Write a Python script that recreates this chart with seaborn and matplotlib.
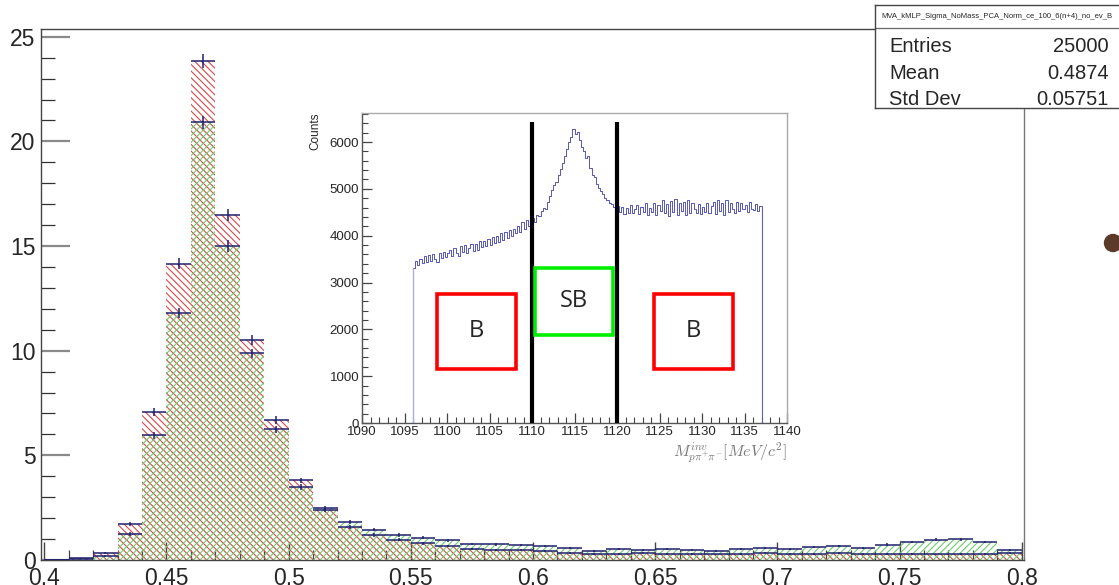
import numpy as np
import matplotlib
matplotlib.use("Agg")
import matplotlib.pyplot as plt
import seaborn as sns
from matplotlib.patches import Rectangle, Ellipse
from matplotlib.ticker import MultipleLocator

# ---------------- data: main histograms (MVA output, 40 bins 0.40-0.80) ----------------
bin_edges = np.round(np.arange(0.40, 0.8001, 0.01), 2)
red_vals = [0.00, 0.08, 0.32, 1.71, 7.07, 14.15, 23.84, 16.47, 10.51, 6.70,
            3.80, 2.38, 1.58, 1.20, 0.96, 0.80, 0.67, 0.53, 0.48, 0.46,
            0.45, 0.35, 0.30, 0.29, 0.32, 0.29, 0.29, 0.27, 0.29, 0.35,
            0.29, 0.30, 0.35, 0.29, 0.29, 0.30, 0.27, 0.29, 0.29, 0.35]
red_errs = [0.00, 0.02, 0.04, 0.09, 0.19, 0.26, 0.32, 0.28, 0.22, 0.18,
            0.13, 0.11, 0.09, 0.08, 0.07, 0.06, 0.06, 0.05, 0.05, 0.05,
            0.05, 0.04, 0.04, 0.04, 0.04, 0.04, 0.04, 0.04, 0.04, 0.04,
            0.04, 0.04, 0.04, 0.04, 0.04, 0.04, 0.04, 0.04, 0.04, 0.04]
green_vals = [0.00, 0.05, 0.19, 1.24, 5.95, 11.80, 20.92, 15.00, 9.87, 6.25,
              3.48, 2.49, 1.80, 1.45, 1.20, 1.07, 0.94, 0.77, 0.75, 0.72,
              0.68, 0.56, 0.42, 0.53, 0.49, 0.54, 0.49, 0.42, 0.51, 0.59,
              0.53, 0.61, 0.67, 0.59, 0.73, 0.86, 0.97, 1.00, 0.85, 0.48]
green_errs = [0.00, 0.02, 0.03, 0.08, 0.17, 0.24, 0.31, 0.27, 0.22, 0.17,
              0.13, 0.11, 0.09, 0.08, 0.08, 0.07, 0.07, 0.06, 0.06, 0.06,
              0.06, 0.05, 0.05, 0.05, 0.05, 0.05, 0.05, 0.05, 0.05, 0.05,
              0.05, 0.05, 0.06, 0.05, 0.06, 0.06, 0.07, 0.07, 0.06, 0.05]

# ---------------- data: inset invariant-mass histogram ----------------
mass_edges = np.arange(1096.0, 1137.0001, 0.25)
mass_counts = [
    3300, 3460, 3380, 3510, 3420, 3560, 3440, 3590, 3470, 3610, 3500, 3430, 3640, 3520, 3660, 3540,
    3620, 3700, 3570, 3740, 3620, 3560, 3780, 3650, 3800, 3630, 3740, 3830, 3680, 3820, 3700, 3880,
    3760, 3890, 3770, 3930, 3800, 3980, 3840, 4000, 3870, 4050, 3900, 4080, 3960, 4130, 3990, 4150,
    4060, 4200, 4080, 4290, 4140, 4330, 4210, 4360,
    4380, 4300, 4450, 4420, 4530, 4600, 4580, 4720,
    4850, 4980, 5080, 5150, 5300, 5420, 5560, 5700,
    5850, 6000, 6100, 6280, 6180, 6220, 6050, 5900,
    5800, 5650, 5700, 5450, 5300, 5250, 5100, 5020,
    4950, 4880, 4800, 4760, 4700, 4680, 4620, 4600,
    4640, 4500, 4610, 4460, 4600, 4490, 4650, 4480, 4580, 4660, 4470, 4620, 4510, 4690, 4450, 4600,
    4500, 4700, 4440, 4650, 4520, 4760, 4480, 4680, 4420, 4740, 4500, 4790, 4450, 4700, 4530, 4730,
    4440, 4770, 4490, 4690, 4560, 4480, 4680, 4460, 4620, 4510, 4700, 4480, 4640, 4720, 4460, 4760,
    4530, 4700, 4450, 4760, 4500, 4690, 4560, 4490, 4730, 4520, 4700, 4560, 4650, 4500, 4720, 4580,
    4540, 4680, 4520, 4640]
sb_window = [1110, 1120]
cut_line_top = 6430
# annotation boxes (inset data coords): label, x0, y0, x1, y1, colour
region_boxes = [("B", 1098.8, 1154, 1108.1, 2756, "#ff0000"),
                ("SB", 1110.4, 1880, 1119.5, 3312, "#00ee00"),
                ("B", 1124.4, 1154, 1133.6, 2756, "#ff0000")]

stats_title = "MVA_kMLP_Sigma_NoMass_PCA_Norm_ce_100_6(n+4)_no_ev_B"
stats_rows = [("Entries", "25000"), ("Mean", "0.4874"), ("Std Dev", "0.05751")]

# ---------------- style ----------------
sns.set_style("white")
plt.rcParams["font.family"] = ["Liberation Sans", "DejaVu Sans"]
plt.rcParams["hatch.linewidth"] = 0.8

W, H = 1119, 585
fig = plt.figure(figsize=(W / 100, H / 100), dpi=100)

def fx(px):
    return px / W

def fy(py):
    return 1 - py / H

RED = "#d64a4a"
GREEN = "#6ccc6c"
NAVY = "#20206e"

ax = fig.add_axes([fx(41), fy(560), fx(1024) - fx(41), fy(29) - fy(560)])
centers = (bin_edges[:-1] + bin_edges[1:]) / 2
edges_list = [float(e) for e in bin_edges]

sns.histplot(x=centers, weights=red_vals, bins=edges_list, ax=ax, element="bars",
             fill=True, facecolor="none", edgecolor=RED, hatch="\\" * 5,
             linewidth=0, zorder=2)
sns.histplot(x=centers, weights=green_vals, bins=edges_list, ax=ax, element="bars",
             fill=True, facecolor="none", edgecolor=GREEN, hatch="/" * 5,
             linewidth=0, zorder=2)
half = (bin_edges[1] - bin_edges[0]) / 2
ax.errorbar(centers, red_vals, xerr=half, yerr=red_errs, fmt="none",
            ecolor=NAVY, elinewidth=1.1, capsize=0, zorder=4)
ax.errorbar(centers, green_vals, xerr=half, yerr=green_errs, fmt="none",
            ecolor=NAVY, elinewidth=1.1, capsize=0, zorder=4)

ax.set_xlim(0.39865, 0.8009)
ax.set_ylim(0, 25.37)
ax.set_xlabel("")
ax.set_ylabel("")
ax.xaxis.set_major_locator(MultipleLocator(0.05))
ax.xaxis.set_minor_locator(MultipleLocator(0.01))
ax.yaxis.set_major_locator(MultipleLocator(5))
ax.yaxis.set_minor_locator(MultipleLocator(1))
ax.set_xticks([0.4, 0.45, 0.5, 0.55, 0.6, 0.65, 0.7, 0.75, 0.8])
ax.set_xticklabels(["0.4", "0.45", "0.5", "0.55", "0.6", "0.65", "0.7", "0.75", "0.8"])
ax.set_yticks([0, 5, 10, 15, 20, 25])
ax.set_yticklabels(["0", "5", "10", "15", "20", "25"])
ax.tick_params(which="both", left=True, bottom=True, right=False, top=False)
ax.tick_params(axis="y", which="major", direction="in", length=21, width=1.6,
               color="#8a8a8a", labelsize=16.5, pad=4)
ax.tick_params(axis="y", which="minor", direction="in", length=10, width=0.9,
               color="#333333")
ax.tick_params(axis="x", which="major", direction="in", length=13, width=1.0,
               color="#444444", labelsize=16.5, pad=5)
ax.tick_params(axis="x", which="minor", direction="in", length=7, width=0.9,
               color="#444444")
for s in ["left", "bottom", "top"]:
    ax.spines[s].set_color("#444444")
    ax.spines[s].set_linewidth(1.0)
ax.spines["right"].set_color("#777777")
ax.spines["right"].set_linewidth(1.0)
ax.set_facecolor("white")

# ---------------- inset ----------------
ax_in = fig.add_axes([fx(362), fy(423), fx(787) - fx(362), fy(113) - fy(423)])
mass_centers = (mass_edges[:-1] + mass_edges[1:]) / 2
mass_edges_list = [float(e) for e in mass_edges]
sns.histplot(x=mass_centers, weights=mass_counts, bins=mass_edges_list, ax=ax_in,
             element="step", fill=False, color="#5656b8", linewidth=0.7)
ax_in.vlines([mass_edges[0]], 0, mass_counts[0], color="#aab0dd", lw=1.0)
ax_in.vlines([mass_edges[-1]], 0, mass_counts[-1], color="#6060bb", lw=0.8)
ax_in.vlines(sb_window, 0, cut_line_top, color="black", lw=3.0, zorder=5)
for label, x0, y0, x1, y1, col in region_boxes:
    ax_in.add_patch(Rectangle((x0, y0), x1 - x0, y1 - y0, fill=False,
                              edgecolor=col, lw=2.6, zorder=6))
    ax_in.text((x0 + x1) / 2, (y0 + y1) / 2, label, ha="center", va="center",
               fontsize=17, family=["Open Sans", "DejaVu Sans"], zorder=7)
ax_in.set_xlim(1090, 1140)
ax_in.set_ylim(0, 6620)
ax_in.xaxis.set_major_locator(MultipleLocator(5))
ax_in.xaxis.set_minor_locator(MultipleLocator(1))
ax_in.yaxis.set_major_locator(MultipleLocator(1000))
ax_in.yaxis.set_minor_locator(MultipleLocator(200))
ax_in.tick_params(which="both", left=True, bottom=True, right=False, top=False)
ax_in.tick_params(which="major", direction="in", length=7, width=0.9,
                  color="#444444", labelsize=9.5, pad=2)
ax_in.tick_params(which="minor", direction="in", length=4, width=0.8,
                  color="#444444")
ax_in.set_ylabel("Counts", fontsize=8.5)
ax_in.yaxis.set_label_coords(-0.095, 0.94)
ax_in.set_xlabel(r"$M^{inv}_{p\pi^{+}\pi^{-}}[MeV/c^{2}]$", fontsize=11.5,
                 color="#777777", math_fontfamily="cm", loc="right")
ax_in.xaxis.set_label_coords(1.0, -0.055)
for s in ["left", "bottom"]:
    ax_in.spines[s].set_color("#555555")
    ax_in.spines[s].set_linewidth(1.0)
for s in ["top", "right"]:
    ax_in.spines[s].set_color("#aaaaaa")
    ax_in.spines[s].set_linewidth(1.0)
ax_in.set_facecolor("white")

# ---------------- stats box ----------------
st = fig.add_axes([fx(875), fy(108), 1.01 - fx(875), fy(5) - fy(108)])
st.set_xticks([])
st.set_yticks([])
st.set_xlim(0, 1)
st.set_ylim(0, 1)
for s in st.spines.values():
    s.set_color("#444444")
    s.set_linewidth(1.0)
st.axhline((108 - 28) / 103, color="#666666", lw=0.9)
fig.text(fx(997), fy(17), stats_title, ha="center", va="center", fontsize=5.5)
for (name, val), py in zip(stats_rows, [46.5, 73.3, 99.3]):
    fig.text(fx(889), fy(py), name, ha="left", va="center", fontsize=14.5)
    fig.text(fx(1109), fy(py), val, ha="right", va="center", fontsize=14.5)

# stray marker on the right edge
fig.patches.append(Ellipse((fx(1113), fy(243)), 17 / W, 17 / H,
                           transform=fig.transFigure, color="#5b3a29",
                           figure=fig))

fig.savefig("out.png", dpi=100)
